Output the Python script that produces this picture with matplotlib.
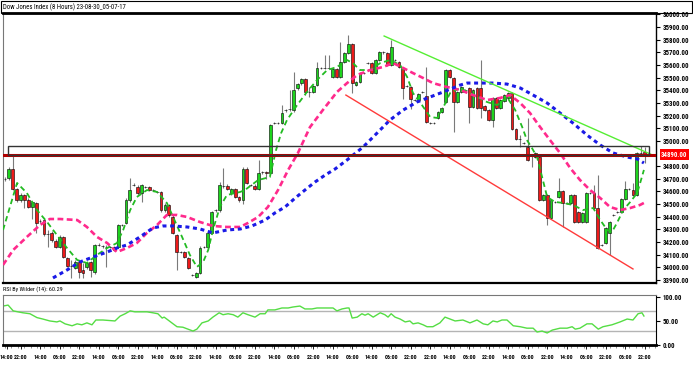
import os
import numpy as np
import matplotlib
matplotlib.use('Agg')
import matplotlib.pyplot as plt
from matplotlib import font_manager as fm
from matplotlib.patches import Rectangle
from matplotlib.ticker import MultipleLocator
import matplotlib.transforms as mtrans

plt.rcParams['font.family'] = ['DejaVu Sans']

title = 'Dow Jones Index (8 Hours) 23-08-30_05-07-17'
rsi_title = 'RSI By Wilder (14): 60.29'
last_price = 34890.0

# OHLC, 8 hour bars
opens = [34698, 34706, 34777, 34619, 34532, 34572, 34532, 34477, 34508, 34366,
         34374, 34263, 34271, 34208, 34160, 34240, 34074, 34011, 33995, 34042,
         33979, 34003, 34042, 33963, 34177, 34169, 34160, 34160, 34137, 34160,
         34335, 34350, 34532, 34651, 34635, 34587, 34635, 34635, 34611, 34595,
         34595, 34453, 34493, 34398, 34256, 34121, 34121, 34074, 33940, 33924,
         33955, 34160, 34160, 34271, 34453, 34453, 34643, 34643, 34587, 34619,
         34556, 34532, 34777, 34651, 34643, 34619, 34753, 34753, 34745, 35140,
         35140, 35140, 35243, 35251, 35243, 35417, 35457, 35489, 35386, 35386,
         35441, 35575, 35575, 35575, 35504, 35567, 35504, 35623, 35694, 35765,
         35441, 35465, 35536, 35615, 35615, 35536, 35638, 35701, 35694, 35599,
         35638, 35623, 35575, 35433, 35425, 35322, 35322, 35386, 35354, 35140,
         35140, 35180, 35227, 35306, 35560, 35496, 35306, 35386, 35402, 35417,
         35267, 35417, 35417, 35275, 35243, 35164, 35338, 35259, 35314, 35338,
         35378, 35093, 35014, 34983, 34951, 34888, 34872, 34872, 34532, 34572,
         34390, 34516, 34556, 34603, 34508, 34508, 34572, 34437, 34358, 34358,
         34587, 34587, 34469, 34177, 34192, 34271, 34414, 34437, 34437, 34540,
         34619, 34611, 34572, 34904, 34912]
highs = [34715, 34790, 34888, 34630, 34585, 34580, 34548, 34525, 34520, 34380,
         34385, 34295, 34290, 34220, 34255, 34250, 34085, 34058, 34055, 34050,
         34034, 34045, 34050, 34185, 34190, 34180, 34175, 34170, 34170, 34345,
         34345, 34545, 34706, 34665, 34650, 34660, 34645, 34645, 34620, 34605,
         34605, 34505, 34500, 34410, 34265, 34130, 34130, 34080, 33950, 33965,
         34165, 34170, 34280, 34445, 34465, 34674, 34785, 34655, 34630, 34630,
         34565, 34790, 34790, 34660, 34655, 34848, 34765, 34760, 35135, 35150,
         35150, 35283, 35255, 35402, 35544, 35460, 35500, 35500, 35425, 35445,
         35623, 35585, 35678, 35678, 35575, 35575, 35781, 35705, 35836, 35775,
         35475, 35545, 35545, 35625, 35625, 35648, 35710, 35710, 35705, 35797,
         35648, 35632, 35585, 35443, 35435, 35332, 35380, 35395, 35583, 35150,
         35150, 35237, 35269, 35570, 35570, 35506, 35396, 35435, 35412, 35427,
         35412, 35427, 35638, 35285, 35253, 35348, 35348, 35332, 35372, 35388,
         35388, 35103, 35045, 34993, 35180, 34898, 34914, 34882, 34582, 34582,
         34542, 34526, 34706, 34613, 34518, 34582, 34582, 34447, 34440, 34597,
         34597, 34651, 34730, 34187, 34321, 34368, 34424, 34447, 34550, 34680,
         34629, 34666, 34914, 34960, 34951]
lows = [34680, 34690, 34610, 34520, 34520, 34469, 34469, 34382, 34271, 34350,
        34250, 34160, 34200, 34150, 34150, 34070, 34000, 33916, 33985, 33916,
        33916, 33990, 33924, 33950, 34165, 34155, 34003, 34150, 34130, 34150,
        34325, 34340, 34520, 34640, 34575, 34516, 34625, 34600, 34600, 34585,
        34440, 34440, 34400, 34260, 33979, 34110, 34070, 33985, 33930, 33915,
        33945, 34150, 34150, 34260, 34440, 34440, 34630, 34610, 34575, 34545,
        34520, 34500, 34655, 34640, 34610, 34610, 34740, 34700, 34735, 35130,
        35130, 35130, 35230, 35240, 35230, 35405, 35445, 35360, 35346, 35375,
        35430, 35565, 35565, 35565, 35495, 35495, 35495, 35615, 35685, 35378,
        35430, 35455, 35525, 35605, 35525, 35525, 35628, 35690, 35590, 35590,
        35628, 35575, 35330, 35423, 35251, 35312, 35312, 35376, 35140, 35130,
        35130, 35170, 35217, 35296, 35494, 35070, 35296, 35376, 35392, 35140,
        35257, 35249, 35180, 35233, 35154, 35109, 35249, 35249, 35304, 35328,
        35083, 35004, 34951, 34973, 34838, 34793, 34862, 34522, 34522, 34335,
        34380, 34506, 34546, 34319, 34498, 34498, 34348, 34348, 34348, 34348,
        34577, 34459, 34143, 34167, 34182, 34098, 34404, 34427, 34427, 34530,
        34609, 34562, 34562, 34894, 34825]
closes = [34700, 34777, 34619, 34532, 34572, 34532, 34477, 34516, 34350, 34366,
          34263, 34263, 34216, 34160, 34240, 34082, 34011, 34011, 34042, 33963,
          33955, 34034, 33979, 34177, 34177, 34169, 34160, 34160, 34160, 34335,
          34335, 34532, 34611, 34651, 34587, 34651, 34635, 34611, 34611, 34595,
          34453, 34493, 34414, 34271, 34121, 34121, 34082, 33995, 33940, 33955,
          34153, 34160, 34271, 34437, 34453, 34651, 34643, 34620, 34619, 34556,
          34532, 34777, 34666, 34651, 34619, 34745, 34753, 34745, 35125, 35140,
          35140, 35220, 35243, 35251, 35402, 35449, 35489, 35386, 35386, 35433,
          35575, 35575, 35575, 35575, 35567, 35504, 35623, 35694, 35765, 35457,
          35465, 35536, 35536, 35615, 35536, 35638, 35701, 35701, 35599, 35741,
          35638, 35583, 35417, 35433, 35330, 35322, 35370, 35386, 35149, 35140,
          35140, 35227, 35259, 35560, 35504, 35306, 35386, 35425, 35402, 35267,
          35402, 35259, 35259, 35243, 35164, 35338, 35259, 35322, 35362, 35378,
          35093, 35014, 35014, 34983, 34848, 34888, 34904, 34532, 34572, 34390,
          34532, 34516, 34603, 34508, 34508, 34572, 34358, 34358, 34430, 34587,
          34587, 34469, 34153, 34177, 34311, 34358, 34414, 34437, 34540, 34619,
          34619, 34572, 34904, 34904, 34890]

# moving averages, read as (bar index, price)
ma_fast_x = [-0.5, 3.1, 5.6, 8.2, 10.8, 13.3, 15.9, 18.5, 21.0, 23.6, 26.2, 28.7, 30.3,
             32.1, 33.8, 36.4, 39.0, 41.5, 43.1, 45.4, 47.4, 49.2, 50.8, 52.1, 53.3,
             55.1, 56.9, 60.3, 61.5, 64.9, 67.9, 69.5, 70.8, 72.3, 74.9, 77.4, 80.0,
             82.6, 85.1, 87.7, 89.2, 91.0, 93.6, 96.2, 98.7, 101.3, 103.1, 104.6,
             106.9, 109.0, 110.8, 112.3, 114.1, 116.7, 120.0, 123.6, 126.2, 128.7,
             130.8, 132.6, 133.8, 135.1, 136.4, 137.7, 139.0, 141.0, 143.1, 145.6,
             148.2, 150.8, 152.6, 154.4, 155.6, 156.9, 158.5, 160.3, 162.1, 163.8]
ma_fast = [34295, 34667, 34588, 34453, 34358, 34256, 34153, 34058, 34034, 34098, 34153,
           34192, 34295, 34453, 34556, 34611, 34596, 34509, 34398, 34240, 34098, 34003,
           34042, 34137, 34295, 34477, 34572, 34596, 34611, 34690, 34714, 34928, 35062,
           35165, 35283, 35386, 35481, 35560, 35584, 35639, 35615, 35560, 35560, 35615,
           35639, 35600, 35505, 35378, 35283, 35189, 35181, 35260, 35378, 35418, 35362,
           35307, 35283, 35347, 35244, 35109, 35007, 34943, 34872, 34714, 34556, 34517,
           34509, 34493, 34453, 34469, 34374, 34295, 34279, 34351, 34453, 34517, 34588,
           34770]
ma_mid_x = [-0.5, 2.1, 5.6, 9.0, 11.5, 14.1, 18.5, 21.0, 23.6, 26.2, 28.7, 31.3, 33.8,
            36.4, 39.0, 41.5, 44.1, 46.7, 50.0, 53.3, 56.9, 60.3, 62.3, 64.9, 67.4, 70.0,
            72.6, 75.1, 78.2, 81.5, 85.1, 87.7, 90.3, 93.6, 96.9, 99.5, 102.1, 104.6,
            107.2, 109.7, 113.3, 116.7, 120.0, 123.6, 126.9, 129.5, 132.1, 134.6, 137.2,
            139.7, 142.3, 144.9, 147.4, 150.0, 152.6, 155.1, 157.7, 160.3, 162.8, 163.8]
ma_mid = [34019, 34137, 34240, 34335, 34382, 34382, 34374, 34319, 34240, 34192, 34121,
          34153, 34192, 34272, 34335, 34414, 34414, 34398, 34358, 34327, 34319, 34319,
          34351, 34398, 34477, 34611, 34770, 34904, 35109, 35244, 35386, 35457, 35521,
          35560, 35584, 35615, 35576, 35536, 35497, 35457, 35426, 35402, 35362, 35323,
          35339, 35362, 35299, 35220, 35109, 35007, 34904, 34785, 34691, 34611, 34548,
          34477, 34453, 34469, 34493, 34509]
ma_slow_x = [12.3, 15.9, 19.2, 22.6, 26.2, 28.7, 31.3, 34.6, 37.9, 40.5, 43.1, 46.7, 50.0,
             53.3, 56.9, 60.3, 63.3, 66.7, 69.2, 71.8, 74.4, 76.9, 79.5, 82.1, 84.6, 87.7,
             91.8, 95.4, 98.7, 102.1, 105.6, 109.0, 112.3, 116.7, 118.5, 121.8, 125.1,
             128.7, 132.1, 135.4, 139.0, 142.3, 145.6, 149.2, 152.6, 155.9, 159.5, 162.1,
             163.8]
ma_slow = [33916, 33979, 34042, 34082, 34121, 34153, 34177, 34240, 34311, 34327, 34327,
           34319, 34303, 34272, 34295, 34303, 34327, 34374, 34430, 34477, 34548, 34611,
           34675, 34730, 34777, 34849, 34951, 35062, 35165, 35244, 35307, 35347, 35386,
           35441, 35457, 35457, 35457, 35449, 35418, 35362, 35299, 35220, 35141, 35046,
           34967, 34904, 34872, 34857, 34825]

# trend lines and zone
trend_top_x = [97.2, 166.0]
trend_top_y = [35829, 34888]
trend_bot_x = [87.4, 161.0]
trend_bot_y = [35362, 33987]
zone_x = [0.8, 165.0]
zone_y = [34888, 34959]

# RSI (14)
rsi_x = [-0.5, 0.8, 2.1, 3.3, 4.6, 6.4, 8.2, 9.7, 11.5, 13.3,
         14.1, 15.4, 17.2, 18.5, 19.7, 21.0, 22.3, 23.3, 25.1, 28.2,
         29.5, 30.8, 32.1, 33.3, 34.6, 36.4, 37.9, 39.2, 40.3, 40.8,
         41.8, 43.1, 44.1, 45.6, 46.9, 48.2, 49.2, 50.5, 52.1, 53.3,
         54.9, 55.9, 57.2, 58.5, 59.7, 61.0, 62.3, 64.1, 65.4, 66.7,
         67.4, 69.2, 71.0, 72.6, 73.8, 75.6, 76.9, 78.7, 80.0, 82.6,
         84.1, 85.1, 86.4, 87.7, 88.2, 89.0, 90.3, 91.5, 92.3, 93.1,
         94.4, 96.2, 97.4, 98.2, 99.0, 100.0, 101.3, 102.6, 103.8, 104.6,
         105.9, 107.2, 108.2, 109.7, 111.5, 112.8, 114.1, 115.4, 117.4, 119.2,
         121.0, 122.6, 123.8, 125.1, 126.2, 127.4, 128.7, 130.3, 132.1, 133.8,
         135.4, 136.4, 137.7, 139.0, 140.3, 142.3, 144.1, 145.4, 146.2, 147.4,
         149.2, 150.5, 152.1, 153.3, 155.6, 157.7, 159.5, 161.0, 162.3, 163.3,
         163.8]
rsi = [81, 83, 71, 69, 67, 65, 57, 54, 50, 48,
       50, 44, 40, 44, 42, 46, 42, 52, 52, 50,
       60, 65, 71, 69, 69, 69, 67, 65, 56, 58,
       52, 44, 38, 37, 33, 29, 33, 46, 50, 58,
       67, 63, 65, 63, 58, 67, 63, 58, 65, 65,
       73, 73, 77, 77, 79, 81, 75, 75, 77, 77,
       77, 71, 75, 77, 77, 56, 58, 65, 62, 65,
       58, 67, 63, 58, 65, 58, 54, 48, 50, 44,
       46, 42, 38, 38, 46, 58, 54, 50, 52, 46,
       52, 44, 42, 50, 48, 52, 52, 40, 38, 35,
       35, 27, 29, 25, 31, 35, 35, 38, 33, 35,
       44, 44, 33, 38, 42, 48, 54, 52, 65, 67,
       60.29]

xtick_pos = [0.4] + list(range(4, 165, 5))
xtick_labels = ['14:00', '22:00', '14:00', '06:00', '22:00', '14:00', '06:00', '22:00',
                '14:00', '06:00', '22:00', '14:00', '06:00', '22:00', '14:00', '06:00',
                '22:00', '14:00', '06:00', '14:00', '06:00', '22:00', '22:00', '14:00',
                '06:00', '22:00', '14:00', '06:00', '22:00', '14:00', '06:00', '22:00',
                '06:00', '22:00']


def narrow_font(bold):
    # look for an installed condensed / narrow face, else plain DejaVu Sans
    order = ['robotocondensed', 'notosans-condensed', 'notosanscondensed', 'opensans-cond',
             'opensanscondensed', 'dejavusanscondensed', 'liberationsansnarrow',
             'condensed', 'narrow']
    bad = ['italic', 'oblique', 'light', 'thin', 'black', 'medium', 'semi', 'extra',
           'ultra', 'mono', 'serif']
    files = sorted(set(f.fname for f in fm.fontManager.ttflist))
    for key in order:
        for path in files:
            b = os.path.basename(path).lower()
            if key not in b or any(w in b for w in bad):
                continue
            if ('bold' in b) == bold:
                return fm.FontProperties(fname=path)
    return fm.FontProperties(family='DejaVu Sans', weight='bold' if bold else 'normal')


W, H = 693, 381
fig = plt.figure(figsize=(W / 100, H / 100), dpi=100)
fig.patch.set_facecolor('white')
renderer = fig.canvas.get_renderer()


def fitted(fp, sample, width_px, cap):
    f = fp.copy()
    f.set_size(10)
    t = fig.text(0, 0, sample, fontproperties=f)
    w = t.get_window_extent(renderer=renderer).width
    t.remove()
    f.set_size(min(10 * width_px / w, cap))
    return f


fp_bold = narrow_font(True)
fp_reg = narrow_font(False)
fp_y = fitted(fp_bold, '36000.00', 26, 7.5)
fp_x = fitted(fp_bold, '22:00', 13.5, 7.5)
fp_title = fitted(fp_reg, title, 122, 7.5)
fp_rsi = fitted(fp_reg, rsi_title, 60, 7.5)


def box(l, t, r, b):
    return [l / W, 1 - b / H, (r - l) / W, (b - t) / H]


ax = fig.add_axes(box(3, 13, 656, 283))
ax2 = fig.add_axes(box(3, 295, 656, 345))

# candles
o = np.array(opens, float); c = np.array(closes, float)
hi = np.array(highs, float); lo = np.array(lows, float)
idx = np.arange(len(o))
up = c >= o
ax.vlines(idx, lo, hi, color='#7a7a7a', lw=0.8, zorder=2)
ax.bar(idx[up], (c - o)[up], bottom=o[up], width=0.72, color='#1ed41e',
       edgecolor='black', lw=0.4, zorder=3)
ax.bar(idx[~up], (o - c)[~up], bottom=c[~up], width=0.72, color='#ee1a1a',
       edgecolor='black', lw=0.4, zorder=3)

# moving averages
ax.plot(ma_fast_x, ma_fast, color='#22bb22', lw=1.3, dashes=(3, 2), zorder=4)
ax.plot(ma_mid_x, ma_mid, color='#ff2a8c', lw=1.9, dashes=(2.2, 1.3), zorder=4)
ax.plot(ma_slow_x, ma_slow, color='#1a1ae6', lw=2.2, dashes=(1.3, 1.2), zorder=4)

# trend lines, zone, last price
ax.plot(trend_top_x, trend_top_y, color='#55ee33', lw=1, zorder=5)
ax.plot(trend_bot_x, trend_bot_y, color='#ff3b3b', lw=1, zorder=5)
ax.axhline(last_price, color='#b00000', lw=2.2, zorder=5)
ax.add_patch(Rectangle((zone_x[0], zone_y[0]), zone_x[1] - zone_x[0], zone_y[1] - zone_y[0],
                       fill=False, edgecolor='#333333', lw=1, zorder=6))

ax.set_xlim(-0.51, 166.9)
ax.set_ylim(33876, 36011)
ax.set_xticks([])
ax.yaxis.tick_right()
levels = [p for p in range(33900, 36001, 100) if p != 34900]
ax.set_yticks(levels)
ax.set_yticklabels(['%.2f' % p for p in levels], fontproperties=fp_y)
ax.tick_params(axis='y', length=3, width=0.8, pad=2)

trans = mtrans.blended_transform_factory(ax.transAxes, ax.transData)
ax.text(1.008, last_price, '%.2f' % last_price, transform=trans, color='white',
        fontproperties=fp_y, va='center', ha='left', clip_on=False, zorder=10,
        bbox=dict(boxstyle='square,pad=0.2', facecolor='#ff0000', edgecolor='none'))

ax.spines['left'].set_color('#777777')
ax.spines['top'].set_linewidth(2)
ax.spines['bottom'].set_linewidth(1.6)
ax.spines['right'].set_linewidth(1)

# RSI panel
ax2.axhline(70, color='#b4b4b4', lw=1)
ax2.axhline(30, color='#b4b4b4', lw=1)
ax2.plot(rsi_x, rsi, color='#55dd44', lw=1)
ax2.set_xlim(-0.51, 166.9)
ax2.set_ylim(0, 104)
ax2.yaxis.tick_right()
ax2.set_yticks([0, 50, 100])
ax2.set_yticklabels(['0.00', '50.00', '100.00'], fontproperties=fp_y)
ax2.tick_params(axis='y', length=3, width=0.8, pad=2)
ax2.set_xticks(xtick_pos)
ax2.set_xticklabels(xtick_labels, fontproperties=fp_x)
ax2.xaxis.set_minor_locator(MultipleLocator(5 / 3))
ax2.tick_params(axis='x', which='major', length=3, width=0.6, pad=4)
ax2.tick_params(axis='x', which='minor', length=2, width=0.5, color='#666666')
ax2.spines['left'].set_color('#777777')
ax2.spines['top'].set_color('#777777')
ax2.spines['bottom'].set_linewidth(2)

# title bar and panel caption
fig.patches.append(Rectangle((0.5 / W, 1 - 13 / H), 691.5 / W, 12.5 / H,
                             transform=fig.transFigure, fill=False,
                             edgecolor='black', lw=0.8))
fig.text(3 / W, 1 - 7 / H, title, fontproperties=fp_title, va='center', ha='left')
fig.text(3 / W, 1 - 289 / H, rsi_title, fontproperties=fp_rsi, va='center', ha='left')

fig.savefig('out.png', dpi=100)
